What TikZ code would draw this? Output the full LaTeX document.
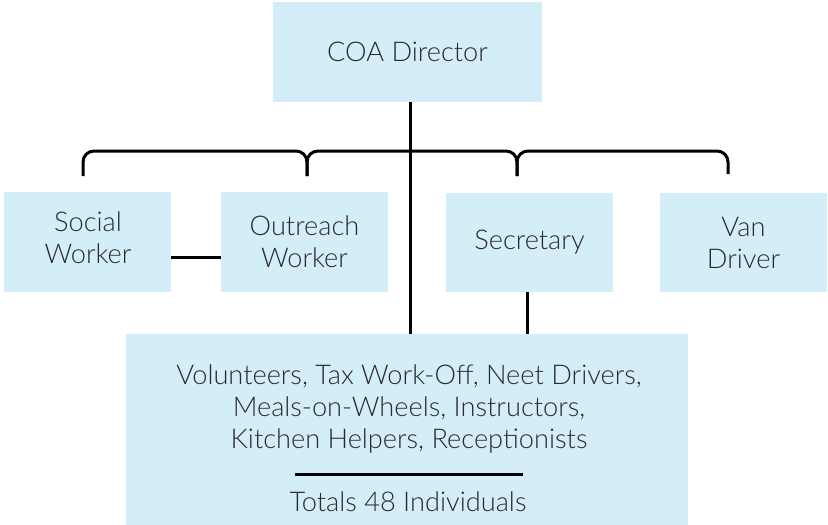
\documentclass[tikz,border=0pt]{standalone}
\usepackage{fontspec}
\setmainfont{Lato Light}
\begin{document}
\begin{tikzpicture}[x=1pt,y=-1pt,
  box/.style={fill=boxblue,draw=none,inner sep=0pt,text=textgray,align=center,
    font=\fontsize{27.2}{32}\selectfont},
  lbl/.style={text=textgray,align=center,font=\fontsize{27.2}{32}\selectfont},
  link/.style={line width=3pt,draw=black}]
\definecolor{boxblue}{HTML}{D3EEF9}
\definecolor{textgray}{HTML}{2A2A2A}
\useasboundingbox (0,0) rectangle (828,525);

% boxes
\node[box,minimum width=269pt,minimum height=100pt] (dir) at (407.5,52) {COA Director};
\node[box,minimum width=167pt,minimum height=100pt] (sw)  at (87.5,242) {};
\node[lbl] (swtext) at (88,238) {Social\\Worker};
\node[box,minimum width=167pt,minimum height=100pt] (ow)  at (304.5,242) {Outreach\\Worker};
\node[box,minimum width=167pt,minimum height=99pt]  (sec) at (529.5,242.5) {Secretary};
\node[box,minimum width=167pt,minimum height=99pt]  (van) at (743.5,242.5) {Van\\Driver};
\node[box,minimum width=562pt,minimum height=191pt] (staff) at (407,429.5) {};

% contents of the staff box
\node[lbl] (list) at (409,409)
  {Volunteers, Tax Work-Off, Neet Drivers,\\Meals-on-Wheels, Instructors,\\Kitchen Helpers, Receptionists};
\node[lbl] (tot) at (408,502) {Totals 48 Individuals};
\coordinate (rl) at (295,474);
\coordinate (rr) at (523,474);
\draw[link] (rl) -- (rr);

% bracket over the second row
\coordinate (b1) at (83,176);
\coordinate (b2) at (307,176);
\coordinate (b3) at (517,176);
\coordinate (b4) at (728,174);
\draw[link]
  (b1) -- (83,162) to[out=90,in=180] (94,151) -- (296,151)
  to[out=0,in=90] (307,162) -- (b2);
\draw[link]
  (b2) -- (307,162) to[out=90,in=180] (318,151) -- (506,151)
  to[out=0,in=90] (517,162) -- (b3);
\draw[link]
  (b3) -- (517,162) to[out=90,in=180] (528,151) -- (717,151)
  to[out=0,in=90] (728,162) -- (b4);

% connectors
\draw[link] ([xshift=2.5pt]dir.south) -- ([xshift=2.5pt]dir.south |- staff.north);
\draw[link] ([xshift=-2.5pt]sec.south) -- ([xshift=-2.5pt]sec.south |- staff.north);
\draw[link] ([yshift=-15pt]sw.east) -- ([yshift=-15pt]ow.west);
\end{tikzpicture}
\end{document}
